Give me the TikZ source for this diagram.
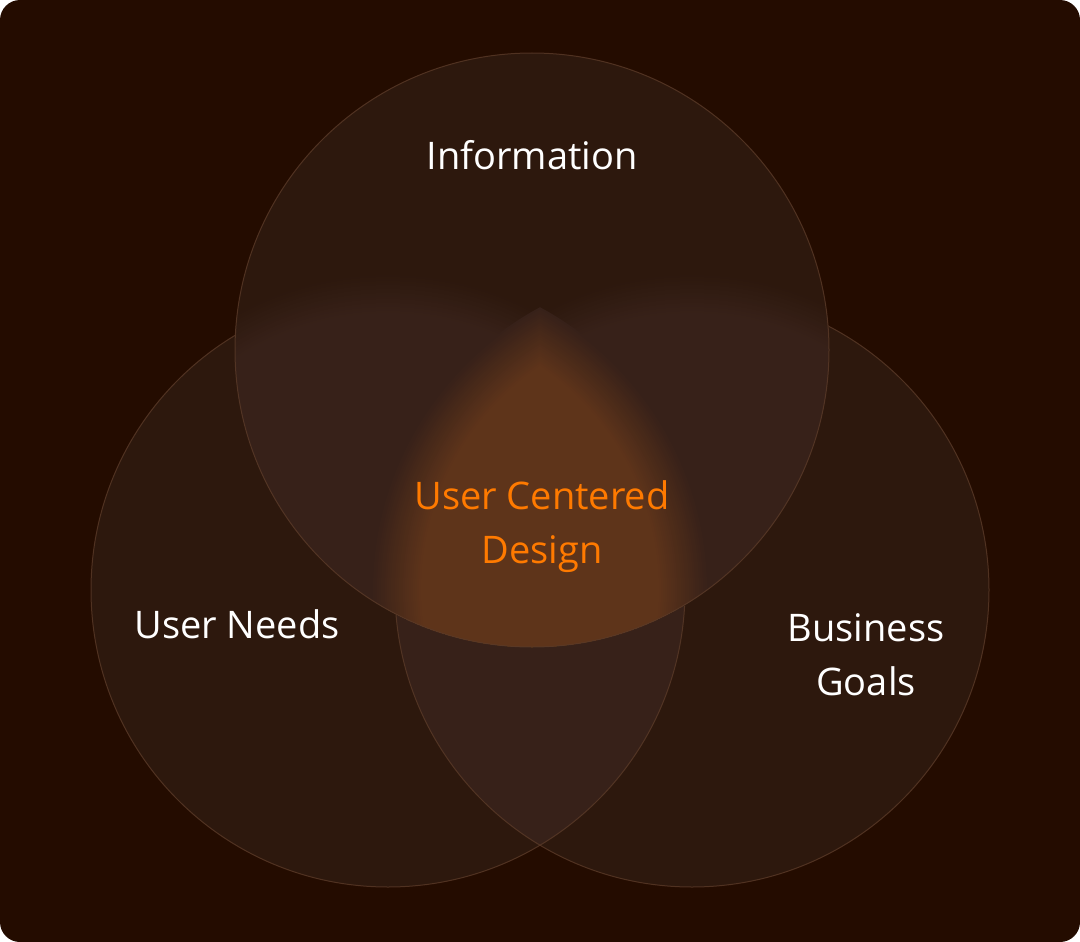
\documentclass[tikz,border=0pt]{standalone}
\usepackage{fontspec}
\setmainfont{Open Sans}
\definecolor{bg}{HTML}{240C00}
\definecolor{cone}{HTML}{2D180D}
\definecolor{ctwo}{HTML}{372119}
\definecolor{corng}{HTML}{5E341A}
\definecolor{cedge}{HTML}{5A3A28}
\definecolor{ctext}{HTML}{FF7A00}
\tikzset{
  lbl/.style={text=white, font=\fontsize{38}{54}\selectfont, align=center, inner sep=0pt},
  hot/.style={lbl, text=ctext},
  rim/.style={draw=cedge, line width=1pt, draw opacity=0.8},
}
\begin{document}
\begin{tikzpicture}[x=1pt,y=-1pt]
\useasboundingbox (0,0) rectangle (1080,942);
\fill[white] (0,0) rectangle (1080,942);
\fill[bg, rounded corners=20pt] (0,0) rectangle (1080,942);
\def\R{297}
\coordinate (T) at (532,350);
\coordinate (L) at (388,590);
\coordinate (Q) at (692,590);
% crisp lower circles
\fill[cone] (L) circle[radius=\R];
\fill[cone] (Q) circle[radius=\R];
\begin{scope}
  \clip (L) circle[radius=\R];
  \fill[ctwo] (Q) circle[radius=\R];
\end{scope}
\draw[rim] (L) circle[radius=\R];
\draw[rim] (Q) circle[radius=\R];
% glass top circle with blurred content
\begin{scope}
  \clip (T) circle[radius=\R];
  \fill[cone] (T) circle[radius=\R];
  \foreach \i in {0,...,20}{
    \pgfmathsetmacro\rr{\R+20-2*\i}
    \pgfmathtruncatemacro\m{5*\i}
    \fill[ctwo!\m!cone] (L) circle[radius=\rr];
    \fill[ctwo!\m!cone] (Q) circle[radius=\rr];
  }
  \foreach \i in {0,...,25}{
    \pgfmathsetmacro\rr{\R+24-2*\i}
    \pgfmathtruncatemacro\m{4*\i}
    \begin{scope}
      \clip (L) circle[radius=\rr];
      \fill[corng!\m!ctwo] (Q) circle[radius=\rr];
    \end{scope}
  }
\end{scope}
\draw[rim] (T) circle[radius=\R];
% labels
\node[lbl] (info) at (532,155) {Information};
\node[hot] (ucd) at (542,527) {User Centered\\Design};
\node[lbl] (needs) at (237,624) {User Needs};
\node[lbl] (goals) at (866,655) {Business\\Goals};
\end{tikzpicture}
\end{document}
